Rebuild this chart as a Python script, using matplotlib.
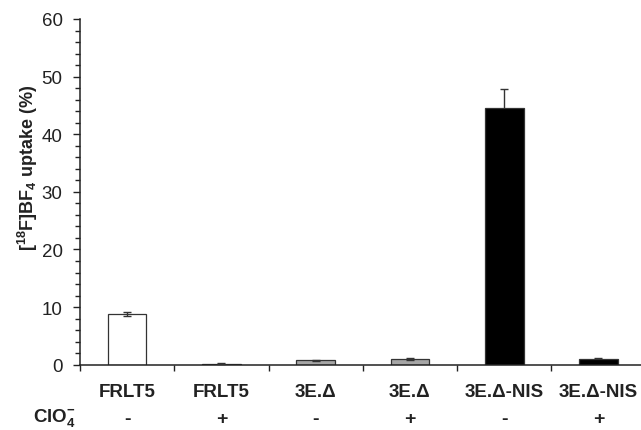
import matplotlib
matplotlib.use("Agg")
import matplotlib.pyplot as plt
from matplotlib.ticker import MultipleLocator, FixedLocator, NullFormatter
import matplotlib.transforms as mtransforms

plt.rcParams['font.family'] = ['Liberation Sans', 'DejaVu Sans']
plt.rcParams['mathtext.fontset'] = 'custom'
plt.rcParams['mathtext.rm'] = 'Liberation Sans'
plt.rcParams['mathtext.bf'] = 'Liberation Sans:bold'
plt.rcParams['mathtext.it'] = 'Liberation Sans:italic'

categories = ["FRLT5", "FRLT5", "3E.\u0394", "3E.\u0394", "3E.\u0394-NIS", "3E.\u0394-NIS"]
perchlorate = ["-", "+", "-", "+", "-", "+"]
values = [8.8, 0.2, 0.8, 1.0, 44.6, 1.0]
errors = [0.4, 0.05, 0.1, 0.1, 3.3, 0.2]
colors = ["#ffffff", "#ffffff", "#a6a6a6", "#a6a6a6", "#000000", "#000000"]
yticks = [0, 10, 20, 30, 40, 50, 60]

W, H = 641, 431
fig = plt.figure(figsize=(W / 100, H / 100), dpi=100)
left_px, right_px, bottom_px, top_px = 80, 645.6, 365.7, 20
ax = fig.add_axes([left_px / W, 1 - bottom_px / H, (right_px - left_px) / W, (bottom_px - top_px) / H])

x = list(range(len(categories)))
ax.bar(x, values, width=0.41, color=colors, edgecolor="#333333", linewidth=0.9, zorder=2)
for xi, v, e, c in zip(x, values, errors, colors):
    z = 1 if c == "#000000" else 3
    ax.errorbar([xi], [v], yerr=[e], fmt="none", ecolor="#333333", elinewidth=1.0,
                capsize=3, capthick=1.0, zorder=z)

ax.set_xlim(-0.5, 5.5)
ax.set_ylim(0, 60)
ax.set_yticks(yticks)
ax.yaxis.set_minor_locator(MultipleLocator(2))
ax.xaxis.set_major_locator(FixedLocator([-0.5, 0.5, 1.5, 2.5, 3.5, 4.5, 5.5]))
ax.xaxis.set_major_formatter(NullFormatter())
for s in ["top", "right"]:
    ax.spines[s].set_visible(False)
for s in ["left", "bottom"]:
    ax.spines[s].set_linewidth(1.1)
    ax.spines[s].set_color("#222222")
ax.tick_params(axis="y", which="major", direction="out", length=5, width=1.0,
               labelsize=13.5, pad=7.5, colors="#222222")
ax.tick_params(axis="y", which="minor", direction="out", length=3.5, width=1.0, colors="#222222")
ax.tick_params(axis="x", which="major", direction="out", length=4.5, width=1.0, colors="#222222")

trans = mtransforms.blended_transform_factory(ax.transData, fig.transFigure)
for xi, cat, pc in zip(x, categories, perchlorate):
    fig.text(xi, 1 - 392.5 / H, cat, transform=trans, ha="center", va="center",
             fontsize=13.5, fontweight="bold", color="#222222")
    fig.text(xi, 1 - 420 / H, pc, transform=trans, ha="center", va="center",
             fontsize=14, fontweight="bold", color="#222222")

fig.text(33 / W, 1 - 418 / H, r"ClO$_{\mathbf{4}}^{\mathbf{-}}$", ha="left", va="center",
         fontsize=13.5, fontweight="bold", color="#222222")

fig.text(28 / W, 1 - 168 / H, r"[$^{\mathbf{18}}$F]BF$_{\mathbf{4}}$ uptake (%)",
         rotation=90, ha="center", va="center", fontsize=13, fontweight="bold", color="#222222")

fig.savefig("out.png", dpi=100)
